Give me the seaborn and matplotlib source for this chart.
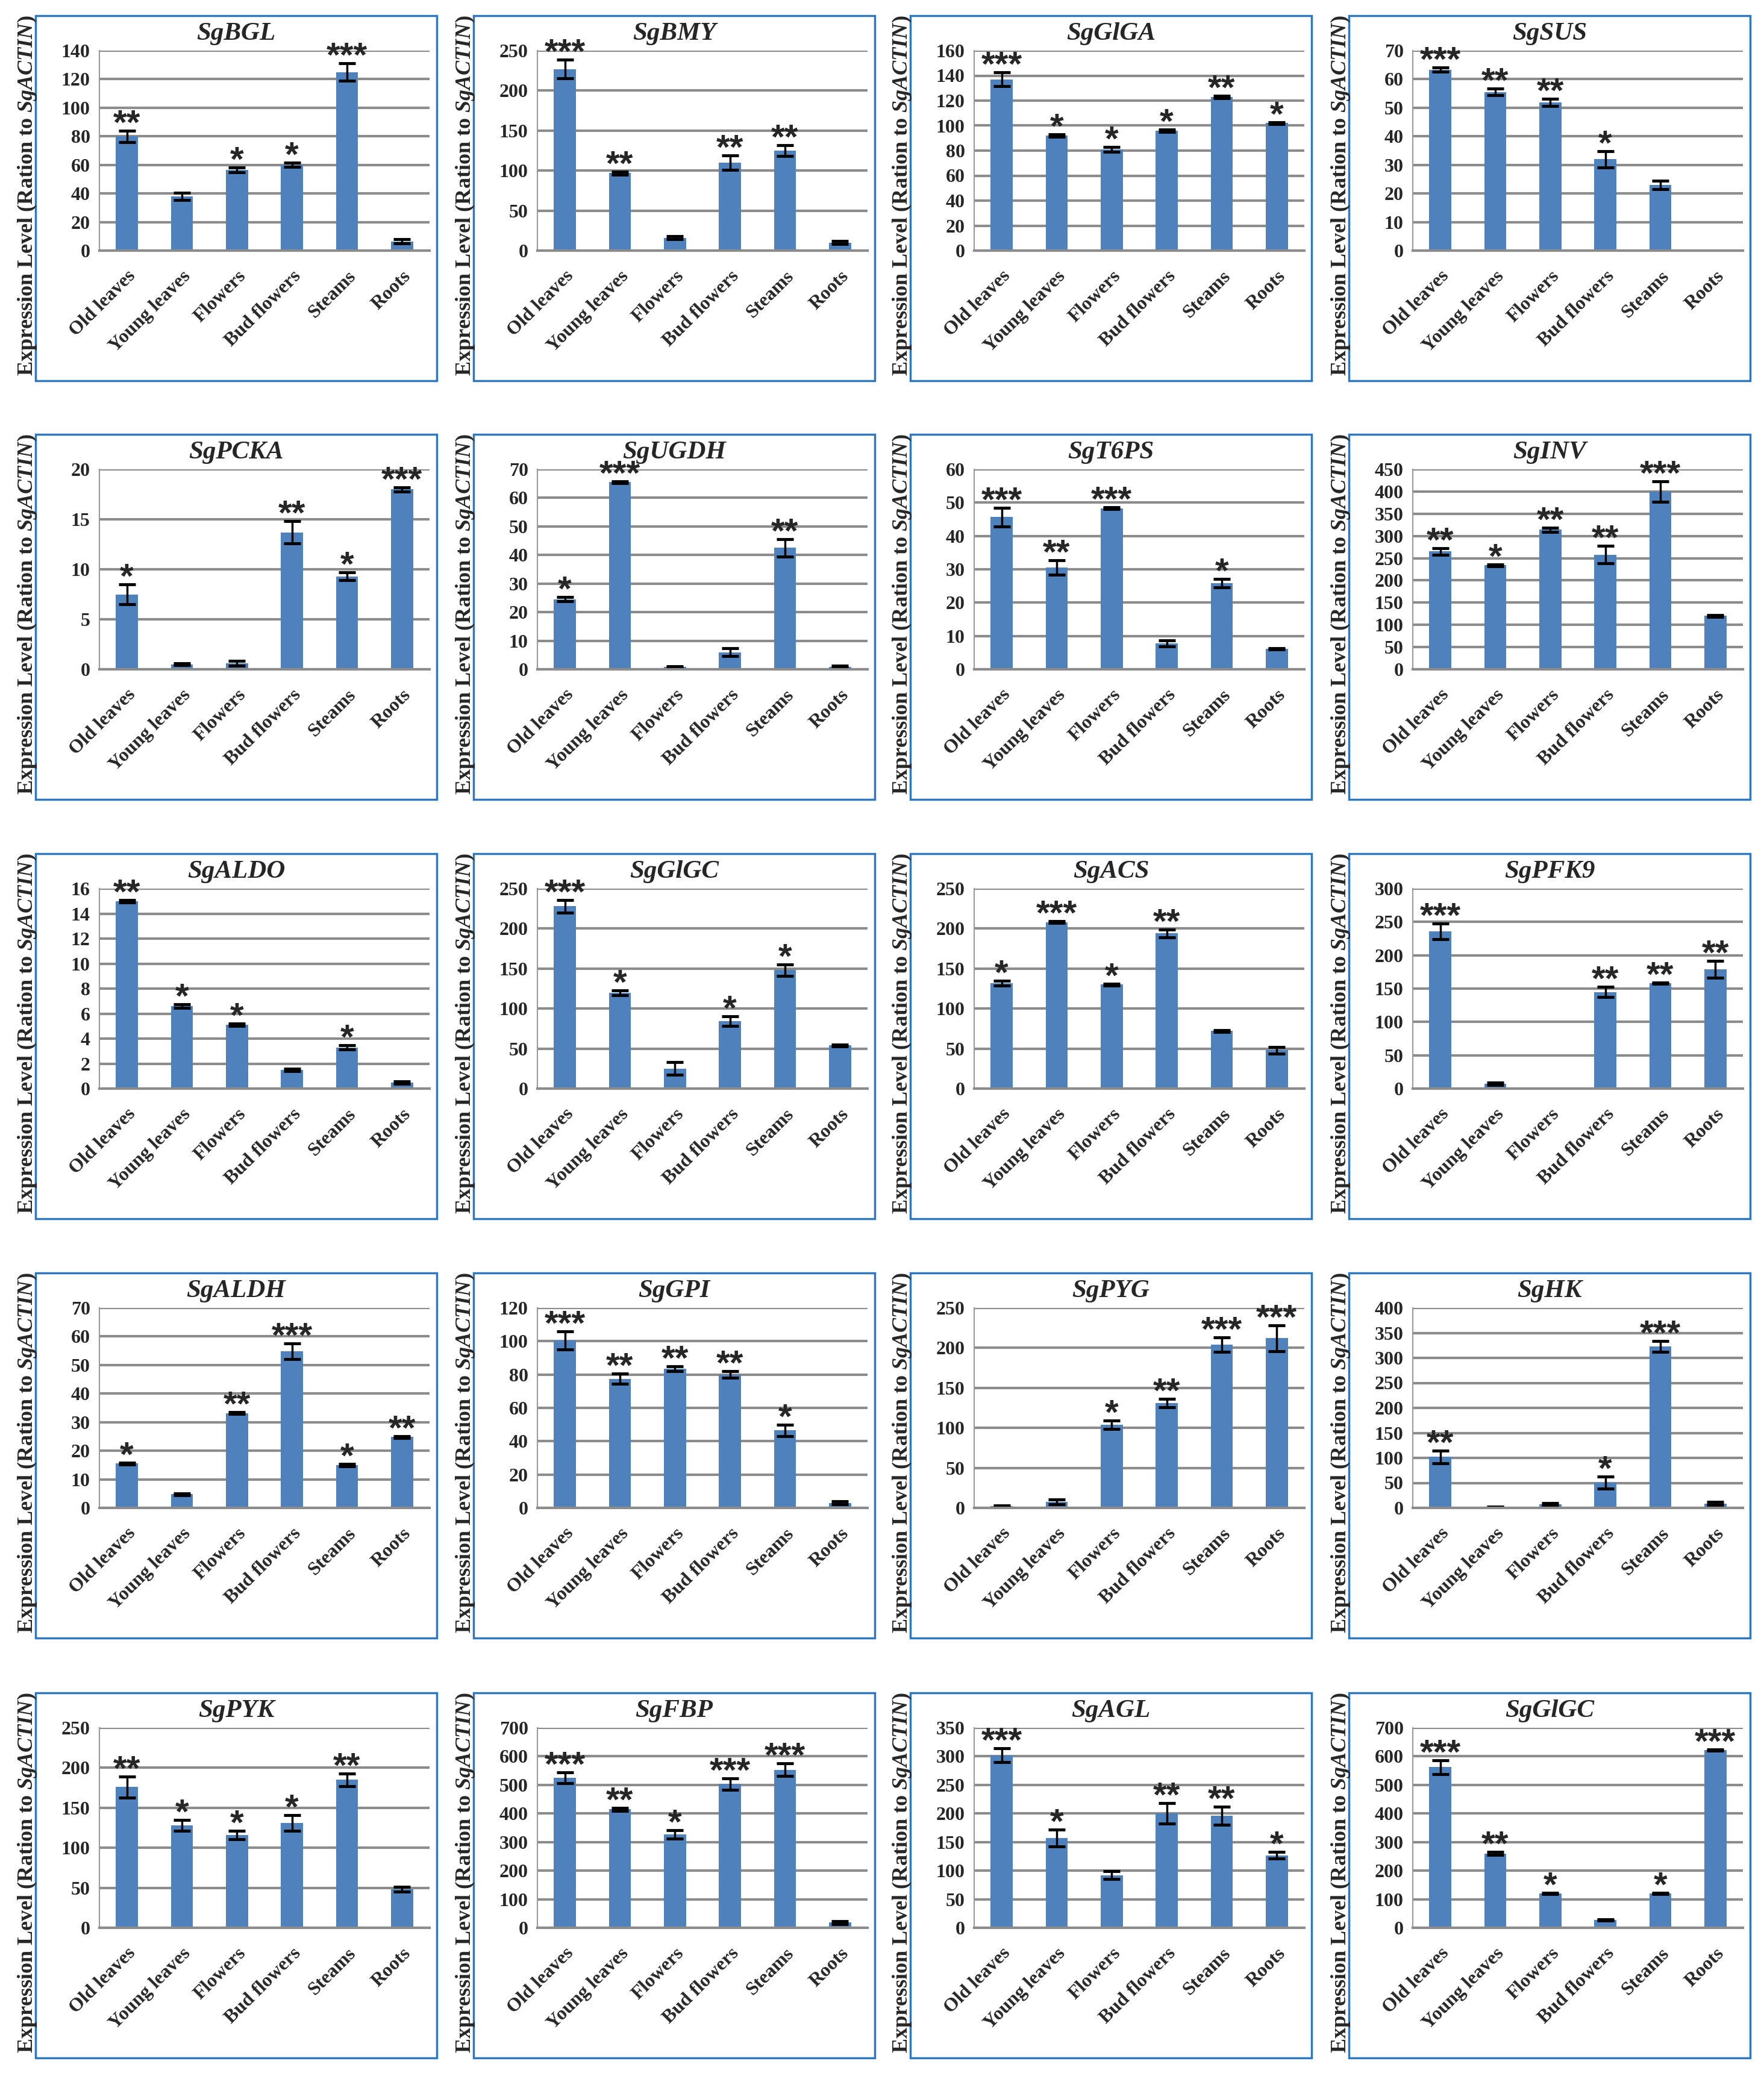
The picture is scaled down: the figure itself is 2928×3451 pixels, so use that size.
import numpy as np
import matplotlib
matplotlib.use("Agg")
import matplotlib.pyplot as plt
import seaborn as sns
from matplotlib.patches import Rectangle

# tissues on the x axis (same for every panel)
tissues = ['Old leaves', 'Young leaves', 'Flowers', 'Bud flowers', 'Steams', 'Roots']

# mean, error and significance marks
bgl_mean = [80, 38, 56.5, 60, 125, 6.5]
bgl_err = [4, 2.5, 1.5, 1.5, 6, 1.5]
bgl_sig = ['**', '', '*', '*', '***', '']

bmy_mean = [227, 97, 16, 110, 125, 10]
bmy_err = [12, 2, 2, 9, 7, 2]
bmy_sig = ['***', '**', '', '**', '**', '']

glga_mean = [137, 92, 81, 96, 123, 102]
glga_err = [5.5, 0.8, 2, 1, 1, 0.6]
glga_sig = ['***', '*', '*', '*', '**', '*']

sus_mean = [63.3, 55.5, 51.8, 32, 23, 0.3]
sus_err = [0.7, 1.2, 1.3, 2.8, 1.5, 0]
sus_sig = ['***', '**', '**', '*', '', '']

pcka_mean = [7.5, 0.5, 0.6, 13.7, 9.3, 18]
pcka_err = [1, 0.1, 0.25, 1.1, 0.4, 0.2]
pcka_sig = ['*', '', '', '**', '*', '***']

ugdh_mean = [24.5, 65.5, 0.8, 6, 42.5, 0.9]
ugdh_err = [0.7, 0.3, 0.3, 1.3, 3, 0.3]
ugdh_sig = ['*', '***', '', '', '**', '']

t6ps_mean = [45.7, 30.5, 48.3, 7.8, 25.8, 6.2]
t6ps_err = [2.8, 2.2, 0.3, 0.9, 1.3, 0.2]
t6ps_sig = ['***', '**', '***', '', '*', '']

inv_mean = [265, 234, 314, 258, 400, 120]
inv_err = [8, 2, 5, 20, 23, 2]
inv_sig = ['**', '*', '**', '**', '***', '']

aldo_mean = [15, 6.6, 5.1, 1.5, 3.3, 0.5]
aldo_err = [0.1, 0.15, 0.1, 0.1, 0.15, 0.1]
aldo_sig = ['**', '*', '*', '', '*', '']

glgc1_mean = [228, 120, 25, 84, 148, 54]
glgc1_err = [8, 3, 8, 6, 7, 1]
glgc1_sig = ['***', '*', '', '*', '*', '']

acs_mean = [132, 208, 130, 194, 72, 48]
acs_err = [3, 1, 1, 5, 1, 4]
acs_sig = ['*', '***', '*', '**', '', '']

pfk9_mean = [236, 7, 0, 145, 158, 179]
pfk9_err = [12, 2, 0, 8, 1, 13]
pfk9_sig = ['***', '', '', '**', '**', '**']

aldh_mean = [15.5, 4.8, 33.2, 54.8, 14.9, 24.8]
aldh_err = [0.4, 0.3, 0.4, 2.8, 0.4, 0.3]
aldh_sig = ['*', '', '**', '***', '*', '**']

gpi_mean = [100.5, 77.5, 83.5, 80, 46.5, 3]
gpi_err = [5.5, 3, 1.5, 2, 3.5, 1]
gpi_sig = ['***', '**', '**', '**', '*', '']

pyg_mean = [2, 7.5, 104, 131, 204, 212]
pyg_err = [1, 3, 5, 5, 9, 16]
pyg_sig = ['', '', '*', '**', '***', '***']

hk_mean = [102, 1.5, 7.5, 51, 323, 9]
hk_err = [13, 0.5, 2, 12, 11, 3]
hk_sig = ['**', '', '', '*', '***', '']

pyk_mean = [176, 128, 116, 131, 185, 48]
pyk_err = [13, 7, 5, 10, 8, 3]
pyk_sig = ['**', '*', '*', '*', '**', '']

fbp_mean = [525, 415, 327, 503, 553, 18]
fbp_err = [20, 5, 15, 20, 22, 5]
fbp_sig = ['***', '**', '*', '***', '***', '']

agl_mean = [302, 157, 92, 200, 196, 127]
agl_err = [12, 15, 7, 18, 16, 6]
agl_sig = ['***', '*', '', '**', '**', '*']

glgc2_mean = [562, 260, 120, 28, 120, 622]
glgc2_err = [25, 5, 2, 2, 2, 2]
glgc2_sig = ['***', '**', '*', '', '*', '***']

genes = ['SgBGL', 'SgBMY', 'SgGlGA', 'SgSUS',
         'SgPCKA', 'SgUGDH', 'SgT6PS', 'SgINV',
         'SgALDO', 'SgGlGC', 'SgACS', 'SgPFK9',
         'SgALDH', 'SgGPI', 'SgPYG', 'SgHK',
         'SgPYK', 'SgFBP', 'SgAGL', 'SgGlGC']
y_max = [140, 250, 160, 70, 20, 70, 60, 450, 16, 250, 250, 300,
         70, 120, 250, 400, 250, 700, 350, 700]
y_step = [20, 50, 20, 10, 5, 10, 10, 50, 2, 50, 50, 50,
          10, 20, 50, 50, 50, 100, 50, 100]

means = [bgl_mean, bmy_mean, glga_mean, sus_mean, pcka_mean, ugdh_mean, t6ps_mean, inv_mean,
         aldo_mean, glgc1_mean, acs_mean, pfk9_mean, aldh_mean, gpi_mean, pyg_mean, hk_mean,
         pyk_mean, fbp_mean, agl_mean, glgc2_mean]
errs = [bgl_err, bmy_err, glga_err, sus_err, pcka_err, ugdh_err, t6ps_err, inv_err,
        aldo_err, glgc1_err, acs_err, pfk9_err, aldh_err, gpi_err, pyg_err, hk_err,
        pyk_err, fbp_err, agl_err, glgc2_err]
sigs = [bgl_sig, bmy_sig, glga_sig, sus_sig, pcka_sig, ugdh_sig, t6ps_sig, inv_sig,
        aldo_sig, glgc1_sig, acs_sig, pfk9_sig, aldh_sig, gpi_sig, pyg_sig, hk_sig,
        pyk_sig, fbp_sig, agl_sig, glgc2_sig]

sns.set_style("white")
plt.rcParams['font.family'] = ['Liberation Serif', 'DejaVu Serif']
plt.rcParams['font.weight'] = 'bold'
plt.rcParams['mathtext.fontset'] = 'custom'
plt.rcParams['mathtext.it'] = 'Liberation Serif:italic:bold'
plt.rcParams['mathtext.rm'] = 'Liberation Serif:bold'

W, H = 2928, 3451
fig = plt.figure(figsize=(W / 100, H / 100), dpi=100)
fig.patch.set_facecolor('white')

col_left = [59, 786, 1511, 2239]
row_top = [26, 721, 1417, 2113, 2810]
box_w, box_h = 666, 606

bar_color = '#4F81BD'
grid_color = '#8c8c8c'
box_color = '#2f78c0'

for k in range(20):
    r, c = divmod(k, 4)
    bl, bt = col_left[c], row_top[r]

    # chart frame
    fig.add_artist(Rectangle((bl / W, 1 - (bt + box_h) / H), box_w / W, box_h / H,
                             transform=fig.transFigure, fill=False,
                             edgecolor=box_color, lw=2.5))

    ax_l = bl + 106
    ax_r = bl + box_w - 12
    ax_t = bt + 58
    ax_b = bt + 390
    ax = fig.add_axes([ax_l / W, 1 - ax_b / H, (ax_r - ax_l) / W, (ax_b - ax_t) / H])

    sns.barplot(x=tissues, y=means[k], color=bar_color, saturation=1, width=0.4,
                errorbar=None, linewidth=0, ax=ax, zorder=2)
    idx = [i for i in range(6) if errs[k][i] > 0]
    ax.errorbar(idx, [means[k][i] for i in idx], yerr=[errs[k][i] for i in idx],
                fmt='none', ecolor='black', elinewidth=2.5, capsize=10, capthick=3.5,
                zorder=3)

    for i, s in enumerate(sigs[k]):
        if s:
            ax.annotate(s, (i, means[k][i] + errs[k][i]), xytext=(0, -4),
                        textcoords='offset points', ha='center', va='baseline',
                        fontsize=42, fontweight='bold', family='Liberation Sans',
                        zorder=4, annotation_clip=False)

    ax.set_xlim(-0.5, 5.5)
    ax.set_ylim(0, y_max[k])
    ax.set_yticks(np.arange(0, y_max[k] + y_step[k] / 2, y_step[k]))
    ax.yaxis.grid(True, color=grid_color, lw=3)
    ax.set_axisbelow(True)
    for side in ['top', 'right']:
        ax.spines[side].set_visible(False)
    ax.spines['left'].set_color('#9a9a9a')
    ax.spines['left'].set_linewidth(1.5)
    ax.spines['bottom'].set_color(grid_color)
    ax.spines['bottom'].set_linewidth(3)
    ax.spines['bottom'].set_zorder(5)

    ax.tick_params(axis='y', length=7, width=3, color=grid_color, labelsize=23, pad=4)
    ax.set_xticks(range(6))
    ax.set_xticks(np.arange(-0.5, 6, 1), minor=True)
    ax.set_xticklabels(tissues, rotation=45, ha='right', rotation_mode='anchor',
                       fontsize=23, fontweight='bold')
    ax.tick_params(axis='x', which='major', length=0, pad=20)
    ax.tick_params(axis='x', which='minor', length=9, width=2, color=grid_color,
                   direction='out')
    ax.set_xlabel('')
    ax.set_ylabel('')

    fig.text((bl + box_w / 2) / W, 1 - (bt + 30) / H, genes[k], ha='center', va='center',
             fontsize=31, fontweight='bold', fontstyle='italic')
    fig.text((bl - 14) / W, 1 - (bt + box_h / 2 - 4) / H,
             r'Expression Level (Ration to $\mathit{SgACTIN}$)',
             rotation=90, ha='center', va='center', fontsize=26, fontweight='bold')

fig.savefig('out.png', dpi=100, facecolor='white')
